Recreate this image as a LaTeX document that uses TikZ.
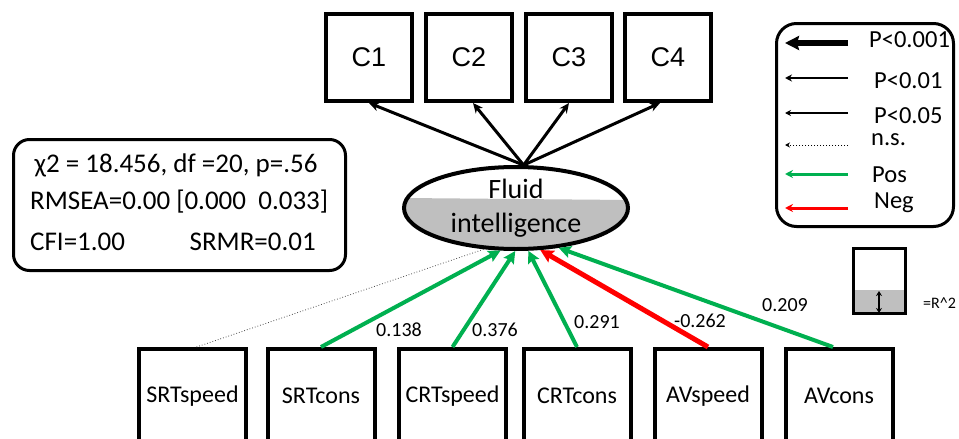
\documentclass[tikz,border=0pt]{standalone}
\usepackage{fontspec}
\setmainfont{Carlito}
\newfontfamily\arialfont{Liberation Sans}
\usetikzlibrary{arrows.meta,calc,shapes.geometric}
\definecolor{posgreen}{HTML}{00B050}
\definecolor{negred}{HTML}{FF0000}
\definecolor{fillgray}{HTML}{BFBFBF}

\begin{document}
\begin{tikzpicture}[x=1pt,y=-1pt,
  indbox/.style={draw,line width=4pt,minimum width=86pt,minimum height=87pt,
    inner sep=0pt,font=\arialfont\fontsize{27}{30}\selectfont},
  measbox/.style={draw,line width=4pt,minimum width=107pt,minimum height=94pt,
    inner sep=0pt,font=\fontsize{24}{28}\selectfont},
  latent/.style={ellipse,draw,line width=4pt,minimum width=224pt,minimum height=82pt,
    inner sep=-4pt,align=center,font=\fontsize{28}{34}\selectfont,
    path picture={\fill[fillgray]
      ($(path picture bounding box.west)+(0,-10)$) --
      ($(path picture bounding box.east)+(0,-8)$) --
      (path picture bounding box.south east) --
      (path picture bounding box.south west) -- cycle;}},
  panel/.style={draw,line width=3pt,inner sep=0pt},
  loading/.style={line width=3pt,-{Stealth[length=10pt,width=9pt]}},
  pospath/.style={posgreen,line width=4pt,-{Stealth[length=12pt,width=12pt,inset=2pt]}},
  negpath/.style={negred,line width=5pt,-{Stealth[length=13pt,width=13pt,inset=2pt]}},
  nspath/.style={black!70,line width=0.8pt,dotted},
  coef/.style={font=\fontsize{20}{22}\selectfont,inner sep=0pt},
  stat/.style={font=\fontsize{27}{30}\selectfont,inner sep=0pt},
  legtext/.style={font=\fontsize{24.5}{27}\selectfont,inner sep=0pt,anchor=west},
]
\clip (0,0) rectangle (959,439);
\fill[white] (0,0) rectangle (959,439);

% indicators of the latent factor
\node[indbox] (c1) at (369,57.5) {C1};
\node[indbox] (c2) at (469,57.5) {C2};
\node[indbox] (c3) at (569,57.5) {C3};
\node[indbox] (c4) at (668,57.5) {C4};

% latent factor
\node[latent] (fi) at (516,208) {Fluid\\intelligence};

% predictors
\node[measbox] (srtspeed) at (192.5,396) {SRTspeed};
\node[measbox] (srtcons)  at (321,396)   {SRTcons};
\node[measbox] (crtspeed) at (452.5,396) {CRTspeed};
\node[measbox] (crtcons)  at (577,396)   {CRTcons};
\node[measbox] (avspeed)  at (708,396)   {AVspeed};
\node[measbox] (avcons)   at (839,396)   {AVcons};

% factor loadings
\draw[loading] (fi.80) -- (c1.south);
\draw[loading] (fi.80) -- ($(c2.south)+(4,0)$);
\draw[loading] (fi.80) -- (c3.south);
\draw[loading] (fi.80) -- ($(c4.south)+(-8,0)$);

% regression paths
\draw[nspath]  ($(srtspeed.north)+(4,0)$) -- (fi.232);
\draw[pospath] (srtcons.north) -- (fi.250);
\draw[pospath] (crtspeed.north) -- (fi.269);
\draw[pospath] (crtcons.north) -- (fi.286);
\draw[negpath] (avspeed.north) -- (fi.300);
\draw[pospath] ($(avcons.north)+(-6,0)$) -- (fi.317);

% path coefficients
\node[coef] (b1) at (399,330) {0.138};
\node[coef] (b2) at (495,330) {0.376};
\node[coef] (b3) at (597,322) {0.291};
\node[coef] (b4) at (700,321) {-0.262};
\node[coef] (b5) at (785,305) {0.209};

% fit indices
\node[panel,rounded corners=16pt,minimum width=332pt,minimum height=131pt] (fit) at (179.5,205) {};
\node[stat] (chi) at (176,165) {χ2 = 18.456, df =20, p=.56};
\node[stat,anchor=west] (rmsea) at (30,202) {RMSEA=0.00 [0.000\ \ 0.033]};
\node[stat,anchor=west] (cfi) at (30,242) {CFI=1.00};
\node[stat,anchor=east] (srmr) at (316,242) {SRMR=0.01};

% legend
\node[panel,rounded corners=20pt,minimum width=177pt,minimum height=203pt] (legend) at (865,125) {};
\coordinate (l1a) at (848,43);  \coordinate (l1b) at (785,43);
\coordinate (l2a) at (848,78);  \coordinate (l2b) at (785,78);
\coordinate (l3a) at (848,113); \coordinate (l3b) at (785,113);
\coordinate (l4a) at (848,145); \coordinate (l4b) at (785,145);
\coordinate (l5a) at (848,174); \coordinate (l5b) at (785,174);
\coordinate (l6a) at (848,208); \coordinate (l6b) at (785,208);
\draw[line width=6pt,-{Stealth[length=14pt,width=14pt,inset=2pt]}] (l1a) -- (l1b);
\draw[line width=2pt,-{Stealth[length=7pt,width=7pt]}] (l2a) -- (l2b);
\draw[line width=1.3pt,-{Stealth[length=6pt,width=6pt]}] (l3a) -- (l3b);
\draw[line width=1pt,dotted,-{Stealth[length=5pt,width=5pt]}] (l4a) -- (l4b);
\draw[posgreen,line width=3pt,-{Stealth[length=8pt,width=8pt]}] (l5a) -- (l5b);
\draw[negred,line width=3pt,-{Stealth[length=8pt,width=8pt]}] (l6a) -- (l6b);
\node[legtext] (t1) at (869,40)  {P<0.001};
\node[legtext] (t2) at (874,81)  {P<0.01};
\node[legtext] (t3) at (874,116) {P<0.05};
\node[legtext] (t4) at (871,140) {n.s.};
\node[legtext] (t5) at (872,175) {Pos};
\node[legtext] (t6) at (874,203) {Neg};

% explained-variance key
\node[panel,minimum width=52pt,minimum height=65pt,
  path picture={\fill[fillgray] (path picture bounding box.south west) rectangle
    ($(path picture bounding box.east)+(0,9)$);}] (r2box) at (879.5,281) {};
\coordinate (r2top) at (879,291);
\coordinate (r2bot) at (879,313);
\draw[line width=1.5pt,{Stealth[length=5pt,width=6pt]}-{Stealth[length=5pt,width=6pt]}] (r2top) -- (r2bot);
\node[font=\fontsize{16}{18}\selectfont,inner sep=0pt,anchor=west] (r2lab) at (923,303) {=R\^{}2};
\end{tikzpicture}
\end{document}
